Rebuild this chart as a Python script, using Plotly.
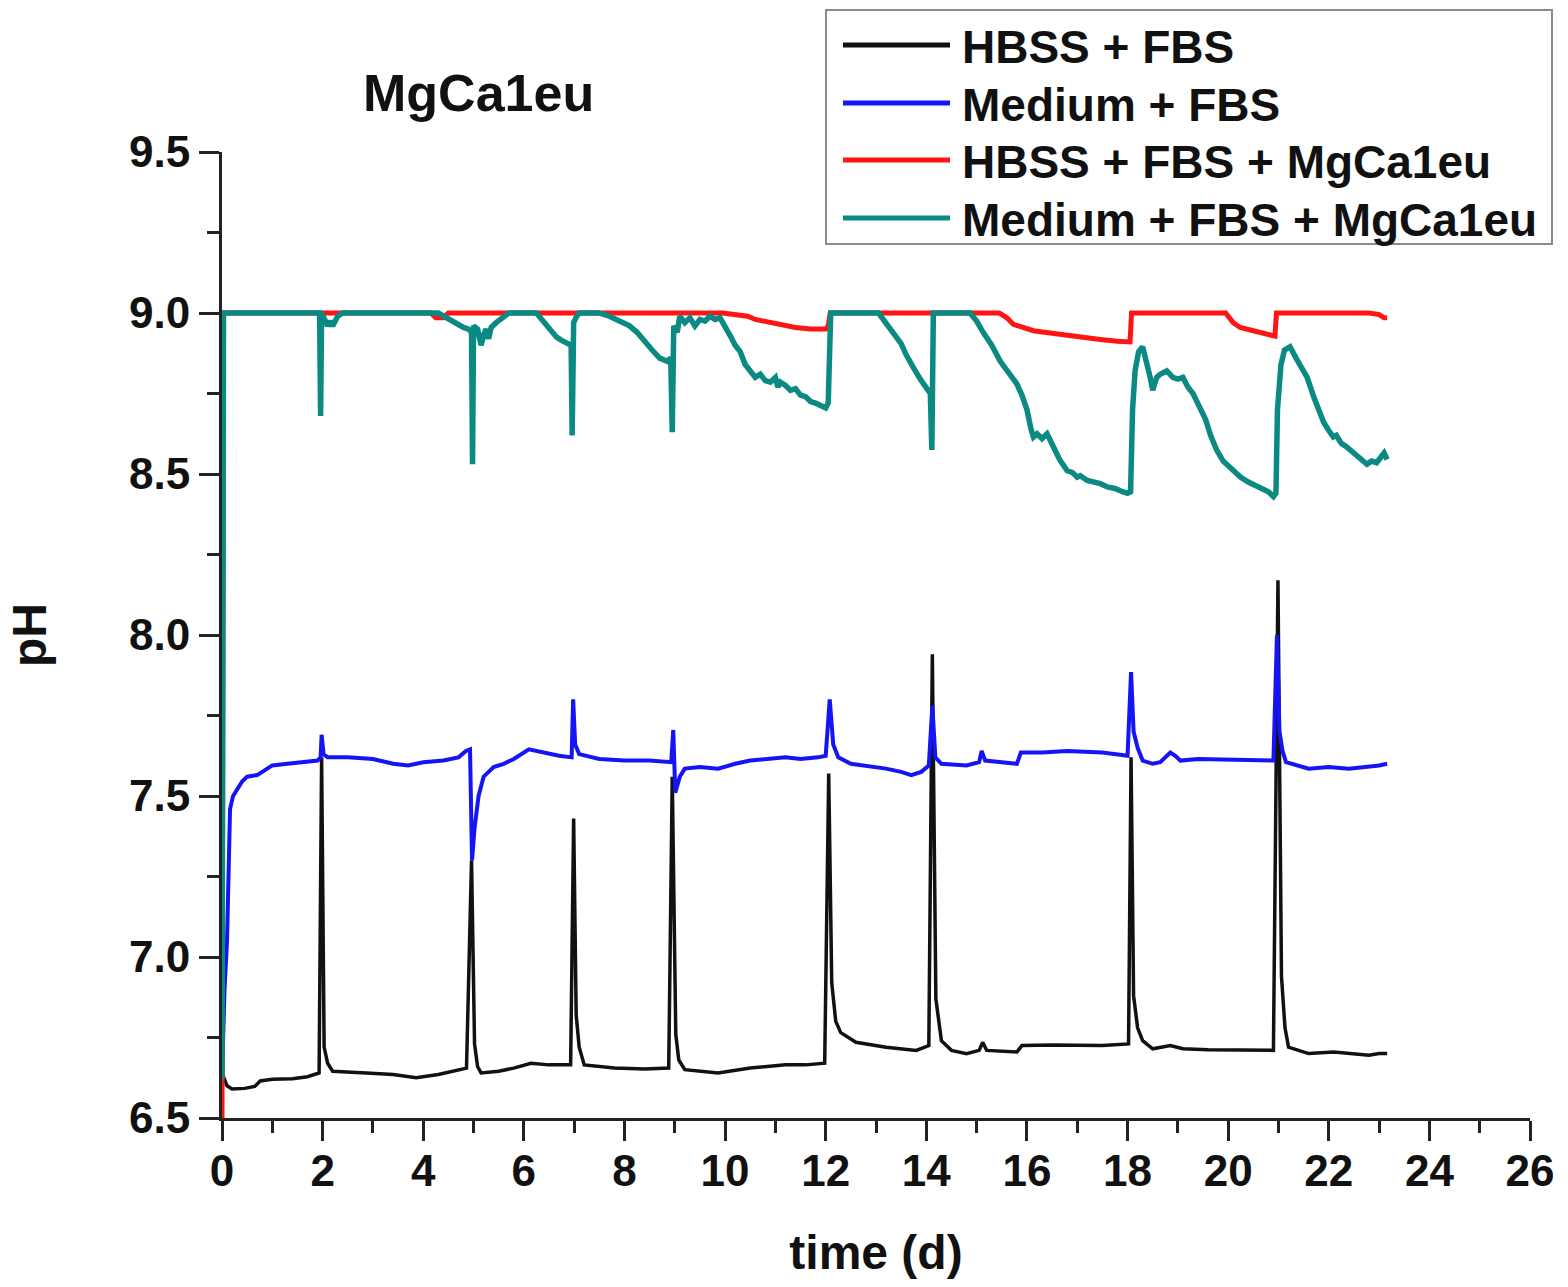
import plotly.graph_objects as go

# ---- pH readings over time (days) ----
hbss_fbs_t = [0, 0.1, 0.2, 0.45, 0.65, 0.76, 1.0, 1.4, 1.7, 1.93, 1.98, 2.03, 2.1, 2.2, 2.87, 3.4,
              3.86, 4.3, 4.86, 4.96, 5.02, 5.08, 5.15, 5.5, 5.8, 6.14, 6.5, 6.93, 6.99, 7.04, 7.1,
              7.2, 7.8, 8.4, 8.88, 8.95, 9.02, 9.08, 9.2, 9.86, 10.5, 11.2, 11.6, 11.98, 12.06,
              12.12, 12.2, 12.3, 12.6, 13.2, 13.8, 14.05, 14.12, 14.19, 14.3, 14.5, 14.8, 15.05,
              15.12, 15.2, 15.8, 15.9, 16.5, 17.5, 18.02, 18.07, 18.12, 18.2, 18.3, 18.5, 18.85,
              19.1, 19.6, 20.3, 20.9, 20.99, 21.06, 21.13, 21.2, 21.6, 22.1, 22.8, 23.0, 23.16]
hbss_fbs_ph = [6.64, 6.60, 6.59, 6.592, 6.598, 6.615, 6.62, 6.622, 6.628, 6.64, 7.62, 6.72, 6.67,
               6.645, 6.64, 6.635, 6.625, 6.635, 6.655, 7.30, 6.73, 6.66, 6.64, 6.645, 6.655, 6.67,
               6.665, 6.665, 7.43, 6.82, 6.72, 6.665, 6.655, 6.652, 6.655, 7.56, 6.76, 6.68, 6.65,
               6.64, 6.655, 6.665, 6.665, 6.67, 7.57, 6.92, 6.80, 6.765, 6.735, 6.72, 6.71, 6.725,
               7.94, 6.87, 6.74, 6.71, 6.70, 6.71, 6.735, 6.71, 6.705, 6.725, 6.727, 6.725, 6.73,
               7.62, 6.88, 6.78, 6.74, 6.715, 6.725, 6.715, 6.712, 6.71, 6.71, 8.17, 6.94, 6.78,
               6.72, 6.70, 6.705, 6.695, 6.70, 6.70]

medium_fbs_t = [0, 0.05, 0.1, 0.13, 0.16, 0.22, 0.3, 0.4, 0.5, 0.7, 0.8, 1.0, 1.3, 1.6, 1.9, 1.96,
                1.98, 2.02, 2.1, 2.5, 3.0, 3.4, 3.7, 4.0, 4.4, 4.7, 4.85, 4.93, 4.97, 5.02, 5.1, 5.2,
                5.4, 5.6, 5.8, 6.1, 6.4, 6.7, 6.95, 6.98, 7.02, 7.1, 7.5, 8.0, 8.5, 8.93, 8.97, 9.01,
                9.1, 9.2, 9.5, 9.86, 10.2, 10.5, 11.2, 11.5, 11.85, 12.0, 12.08, 12.15, 12.25, 12.5,
                13.2, 13.5, 13.7, 13.9, 14.05, 14.12, 14.18, 14.3, 14.8, 15.05, 15.1, 15.17, 15.5,
                15.8, 15.88, 16.3, 16.8, 17.5, 18.0, 18.07, 18.12, 18.2, 18.3, 18.5, 18.65, 18.85,
                18.95, 19.05, 19.4, 20.0, 20.5, 20.9, 20.97, 21.02, 21.08, 21.15, 21.6, 22.0, 22.4,
                22.8, 23.0, 23.16]
medium_fbs_ph = [6.62, 6.90, 7.05, 7.30, 7.46, 7.50, 7.52, 7.545, 7.56, 7.565, 7.575, 7.595, 7.60,
                 7.605, 7.61, 7.62, 7.69, 7.63, 7.62, 7.62, 7.615, 7.60, 7.595, 7.605, 7.61, 7.62,
                 7.64, 7.645, 7.30, 7.40, 7.50, 7.56, 7.59, 7.60, 7.615, 7.645, 7.635, 7.625, 7.62,
                 7.80, 7.66, 7.63, 7.615, 7.61, 7.61, 7.605, 7.705, 7.51, 7.56, 7.585, 7.59, 7.585,
                 7.60, 7.61, 7.62, 7.615, 7.62, 7.625, 7.80, 7.66, 7.62, 7.60, 7.585, 7.575, 7.565,
                 7.575, 7.595, 7.78, 7.62, 7.60, 7.595, 7.605, 7.64, 7.61, 7.605, 7.60, 7.635, 7.635,
                 7.64, 7.635, 7.625, 7.885, 7.70, 7.65, 7.61, 7.60, 7.605, 7.635, 7.625, 7.61, 7.615,
                 7.612, 7.612, 7.61, 8.00, 7.70, 7.64, 7.605, 7.585, 7.59, 7.585, 7.59, 7.595, 7.60]

hbss_mg_t = [0, 0.03, 4.15, 4.25, 4.4, 4.5, 9.95, 10.2, 10.45, 10.6, 10.9, 11.2, 11.4, 11.7, 12.0,
             12.05, 12.09, 15.45, 15.6, 15.73, 15.9, 16.13, 16.5, 16.8, 17.1, 17.46, 17.8, 18.05,
             18.08, 19.95, 20.1, 20.24, 20.5, 20.75, 20.93, 20.96, 22.8, 23.0, 23.1, 23.16]
hbss_mg_ph = [6.50, 9.00, 9.00, 8.985, 8.985, 9.00, 9.00, 8.995, 8.99, 8.98, 8.97, 8.962, 8.955,
              8.95, 8.95, 8.96, 9.00, 9.00, 8.985, 8.965, 8.955, 8.945, 8.937, 8.93, 8.924, 8.918,
              8.912, 8.91, 9.00, 9.00, 8.97, 8.955, 8.945, 8.935, 8.928, 9.00, 9.00, 8.995, 8.985,
              8.985]

medium_mg_t = [0, 0.03, 1.94, 1.96, 1.98, 2.05, 2.1, 2.15, 2.2, 2.3, 2.4, 4.3, 4.45, 4.55, 4.65,
               4.72, 4.8, 4.9, 4.96, 4.98, 5.0, 5.08, 5.15, 5.2, 5.25, 5.3, 5.35, 5.45, 5.55, 5.7,
               6.25, 6.35, 6.45, 6.55, 6.65, 6.75, 6.85, 6.94, 6.96, 6.99, 7.05, 7.1, 7.5, 7.7,
               7.9, 8.1, 8.25, 8.4, 8.55, 8.7, 8.85, 8.92, 8.95, 8.98, 9.05, 9.1, 9.2, 9.3, 9.4,
               9.5, 9.6, 9.7, 9.8, 9.9, 10.0, 10.1, 10.2, 10.3, 10.4, 10.5, 10.6, 10.7, 10.8, 10.9,
               11.0, 11.05, 11.1, 11.2, 11.3, 11.4, 11.5, 11.6, 11.7, 11.8, 11.9, 12.0, 12.05,
               12.1, 13.05, 13.2, 13.35, 13.5, 13.6, 13.7, 13.8, 13.9, 14.0, 14.08, 14.11, 14.14,
               14.87, 15.0, 15.13, 15.3, 15.47, 15.6, 15.7, 15.8, 15.9, 16.0, 16.08, 16.13, 16.2,
               16.3, 16.4, 16.52, 16.65, 16.8, 16.9, 17.0, 17.06, 17.2, 17.35, 17.46, 17.6, 17.75,
               17.9, 18.0, 18.06, 18.1, 18.15, 18.22, 18.3, 18.38, 18.45, 18.5, 18.58, 18.65,
               18.78, 18.9, 19.0, 19.1, 19.2, 19.3, 19.44, 19.55, 19.65, 19.77, 19.9, 20.0, 20.1,
               20.25, 20.4, 20.55, 20.7, 20.8, 20.9, 20.95, 20.98, 21.05, 21.12, 21.23, 21.35,
               21.45, 21.57, 21.7, 21.8, 21.9, 22.0, 22.09, 22.15, 22.25, 22.35, 22.43, 22.55,
               22.65, 22.76, 22.85, 22.95, 23.05, 23.1, 23.16]
medium_mg_ph = [6.62, 9.00, 9.00, 8.68, 9.00, 8.97, 8.96, 8.975, 8.96, 8.99, 9.00, 9.00, 8.985,
                8.975, 8.965, 8.96, 8.955, 8.95, 8.94, 8.53, 8.96, 8.95, 8.90, 8.93, 8.95, 8.92,
                8.955, 8.97, 8.98, 9.00, 9.00, 8.98, 8.96, 8.945, 8.925, 8.915, 8.905, 8.90, 8.62,
                8.97, 8.99, 9.00, 9.00, 8.99, 8.975, 8.96, 8.94, 8.91, 8.885, 8.86, 8.85, 8.86,
                8.63, 8.96, 8.94, 8.99, 8.97, 8.985, 8.96, 8.98, 8.975, 8.99, 8.98, 8.985, 8.96,
                8.93, 8.90, 8.88, 8.84, 8.82, 8.80, 8.81, 8.79, 8.785, 8.80, 8.77, 8.785, 8.775,
                8.76, 8.765, 8.745, 8.74, 8.725, 8.72, 8.71, 8.705, 8.72, 9.00, 9.00, 8.97, 8.935,
                8.905, 8.87, 8.84, 8.815, 8.79, 8.77, 8.75, 8.575, 9.00, 9.00, 8.975, 8.94, 8.90,
                8.85, 8.82, 8.80, 8.78, 8.745, 8.70, 8.64, 8.615, 8.625, 8.61, 8.625, 8.585, 8.545,
                8.51, 8.505, 8.49, 8.495, 8.48, 8.475, 8.47, 8.46, 8.455, 8.445, 8.44, 8.445, 8.70,
                8.82, 8.88, 8.895, 8.85, 8.80, 8.76, 8.80, 8.81, 8.82, 8.80, 8.795, 8.80, 8.77,
                8.75, 8.71, 8.67, 8.62, 8.575, 8.54, 8.525, 8.51, 8.49, 8.475, 8.465, 8.455, 8.445,
                8.43, 8.44, 8.70, 8.84, 8.885, 8.895, 8.86, 8.83, 8.80, 8.74, 8.70, 8.66, 8.635,
                8.615, 8.62, 8.595, 8.585, 8.575, 8.56, 8.545, 8.53, 8.54, 8.535, 8.555, 8.565,
                8.545]

series_names = ["HBSS + FBS", "Medium + FBS", "HBSS + FBS + MgCa1eu", "Medium + FBS + MgCa1eu"]
series_colors = ["#111111", "#1414f5", "#ff1414", "#0b8a84"]
series_widths = [3.5, 4, 5, 5.5]

x_ticks = list(range(0, 27, 2))
y_ticks = [6.5, 7.0, 7.5, 8.0, 8.5, 9.0, 9.5]

FONT = "Liberation Sans, Arial, sans-serif"
W, H = 1568, 1287
ML, MR, MT, MB = 222, 38, 152, 169
PW, PH = W - ML - MR, H - MT - MB


def px(xp):
    return (xp - ML) / PW


def py(yp):
    return (H - MB - yp) / PH


fig = go.Figure()
data = [(hbss_fbs_t, hbss_fbs_ph), (medium_fbs_t, medium_fbs_ph),
        (hbss_mg_t, hbss_mg_ph), (medium_mg_t, medium_mg_ph)]
for (t, ph), name, col, w in zip(data, series_names, series_colors, series_widths):
    fig.add_trace(go.Scatter(x=t, y=ph, mode="lines", name=name, showlegend=False,
                             line=dict(color=col, width=w)))

axis_common = dict(
    showline=True, linewidth=3, linecolor="#222", showgrid=False, zeroline=False,
    ticks="outside", ticklen=20, tickwidth=3, tickcolor="#222",
    tickfont=dict(family=FONT, size=44, color="#111", weight="bold"),
    title_font=dict(family=FONT, size=48, color="#111", weight="bold"),
    layer="below traces",
)

fig.update_xaxes(range=[0, 26], tickvals=x_ticks, ticktext=[str(v) for v in x_ticks],
                 minor=dict(dtick=1, ticklen=12, tickwidth=3, tickcolor="#222", ticks="outside"),
                 ticklabelstandoff=-8,
                 title_text="time (d)", title_standoff=42, **axis_common)
fig.update_yaxes(range=[6.5, 9.5], tickvals=y_ticks, ticktext=[f"{v:.1f}" for v in y_ticks],
                 minor=dict(dtick=0.25, ticklen=12, tickwidth=3, tickcolor="#222", ticks="outside"),
                 title_text="pH", title_standoff=68, **axis_common)

annotations = [dict(text="MgCa1eu", xref="paper", yref="paper", x=px(478), y=py(93),
                    xanchor="center", yanchor="middle", showarrow=False,
                    font=dict(family=FONT, size=52, color="#111", weight="bold"))]
shapes = [dict(type="rect", xref="paper", yref="paper", x0=px(826), x1=px(1552),
               y0=py(244), y1=py(10), line=dict(color="#8a8a8a", width=2), fillcolor="white",
               layer="above")]
row_y = [45, 103, 160, 218]
for ry, name, col in zip(row_y, series_names, series_colors):
    shapes.append(dict(type="line", xref="paper", yref="paper", x0=px(843), x1=px(950),
                       y0=py(ry), y1=py(ry), line=dict(color=col, width=5), layer="above"))
    annotations.append(dict(text=name, xref="paper", yref="paper", x=px(960), y=py(ry + 2),
                            xanchor="left", yanchor="middle", showarrow=False,
                            font=dict(family=FONT, size=46, color="#111", weight="bold")))

fig.update_layout(
    width=W, height=H, margin=dict(l=ML, r=MR, t=MT, b=MB),
    paper_bgcolor="white", plot_bgcolor="white",
    showlegend=False, annotations=annotations, shapes=shapes,
)

fig.write_html("out.html")
